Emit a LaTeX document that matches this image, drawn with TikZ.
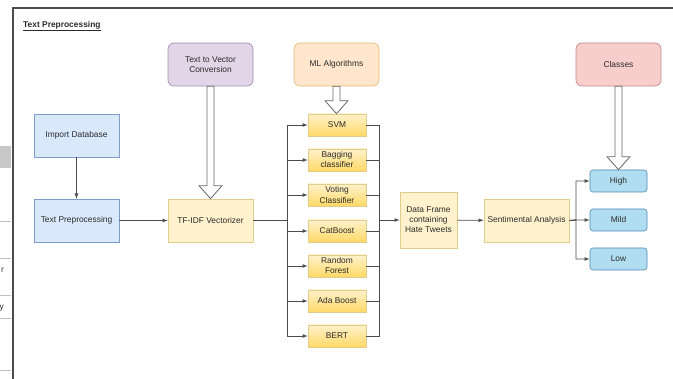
\documentclass[tikz,border=0pt]{standalone}
\usepackage{fontspec}
\setmainfont{Liberation Sans}
\usetikzlibrary{arrows}
\usetikzlibrary{calc}
\definecolor{edge}{HTML}{4D4D4D}
\definecolor{ink}{HTML}{2B2B2B}
\definecolor{blueF}{HTML}{DAE8FC}
\definecolor{blueD}{HTML}{7D9CC8}
\definecolor{yelF}{HTML}{FFF2CC}
\definecolor{yelG}{HTML}{FFD966}
\definecolor{yelD}{HTML}{D6B656}
\definecolor{purF}{HTML}{E1D5E7}
\definecolor{purD}{HTML}{A48AB2}
\definecolor{orF}{HTML}{FFE6CC}
\definecolor{orD}{HTML}{E6B870}
\definecolor{redF}{HTML}{F8CECC}
\definecolor{redD}{HTML}{C48582}
\definecolor{skyF}{HTML}{B1DDF0}
\definecolor{skyD}{HTML}{4F8AB4}
\tikzset{arrow/.style={->, >=latex, draw=edge, line width=0.8pt}}
\tikzset{link/.style={draw=edge, line width=0.8pt}}
\tikzset{box/.style={draw, line width=0.6pt, align=center, inner sep=2pt, text=ink,
    minimum width=85pt, minimum height=43pt, font=\fontsize{8.4}{10}\selectfont}}
\tikzset{bluebox/.style={box, fill=blueF, draw=blueD}}
\tikzset{yelbox/.style={box, fill=yelF, draw=yelD!70}}
\tikzset{headbox/.style={box, rounded corners=6pt}}
\tikzset{model/.style={box, top color=yelF, bottom color=yelG, draw=yelD!70,
    minimum width=58pt, minimum height=22pt}}
\tikzset{level/.style={box, fill=skyF, draw=skyD, rounded corners=3pt,
    minimum width=57pt, minimum height=22pt}}
\tikzset{fat/.style={draw=edge!85, fill=white, line width=0.8pt, line join=miter}}
\newcommand{\fatarrow}[2]{%
  \draw[fat] let \p1=(#1.south), \p2=(#2.north) in
    (\x1-3.5pt,\y1) -- (\x1-3.5pt,\y2+13pt) -- (\x1-11.5pt,\y2+13pt) -- (\x1,\y2)
    -- (\x1+11.5pt,\y2+13pt) -- (\x1+3.5pt,\y2+13pt) -- (\x1+3.5pt,\y1) -- cycle;}

\begin{document}
\begin{tikzpicture}[x=1pt, y=-1pt]
      \useasboundingbox (0,0) rectangle (673,379);
      \fill[black!22] (0,146) rectangle (11,168);
      \foreach \y in {221, 258, 295, 318, 370}
        \draw[black!25, line width=0.5pt] (0,\y) -- (11,\y);
      \node[anchor=east, inner sep=0pt, text=ink, font=\fontsize{8.4}{10}\selectfont] (cutr) at (4,270) {r};
      \node[anchor=east, inner sep=0pt, text=ink, font=\fontsize{8.4}{10}\selectfont] (cuty) at (4,308) {y};
      \draw[edge, line width=1.1pt] (673,8) -- (13,8) -- (13,379);

      \node[anchor=west, inner sep=0pt, text=ink, font=\fontsize{8.4}{10}\selectfont\bfseries]
      (title) at (23,26) {\underline{Text Preprocessing}};

      \node[headbox, fill=purF, draw=purD] (tvc) at (210.5, 64.5) {Text to Vector\\Conversion};
      \node[headbox, fill=orF, draw=orD] (ml) at (336.5, 64.5) {ML Algorithms};
      \node[headbox, fill=redF, draw=redD] (cls) at (618.5, 64.5) {Classes};

      \node[bluebox] (imp) at (76.5, 135.5) {Import Database};
      \node[bluebox] (prep) at (76.5, 220.5) {Text Preprocessing};
      \node[yelbox] (tfidf) at (210.5, 220.5) {TF-IDF Vectorizer};
      \node[yelbox, minimum width=57pt, minimum height=56pt] (df) at (428.5, 220)
      {Data Frame\\containing\\Hate Tweets};
      \node[yelbox] (sa) at (526.5, 220.5) {Sentimental Analysis};

      \coordinate (split) at (287, 220.5);
      \coordinate (join) at (379, 220);
      \coordinate (fork) at (576, 220);

      \foreach \n/\t/\y in {svm/SVM/125, bag/{Bagging\\classifier}/160,
          vote/{Voting\\Classifier}/195, cat/CatBoost/231, rf/{Random\\Forest}/266,
          ada/Ada Boost/301, bert/BERT/336} {
        \node[model] (\n) at (337, \y) {\t};
        \draw[arrow] (tfidf.east) -- (split) |- (\n.west);
        \draw[link] (\n.east) -| (join);
      }

      \foreach \n/\t/\y in {high/High/181, mild/Mild/220, low/Low/259} {
        \node[level] (\n) at (618.5, \y) {\t};
        \draw[arrow] (sa.east) -- (fork) |- (\n.west);
      }

      \draw[arrow] (imp) -- (prep);
      \draw[arrow] (prep) -- (tfidf);
      \draw[arrow] (join) -- (df);
      \draw[arrow] (df) -- (sa);

      \fatarrow{tvc}{tfidf}
      \fatarrow{ml}{svm}
      \fatarrow{cls}{high}
    \end{tikzpicture}
\end{document}
